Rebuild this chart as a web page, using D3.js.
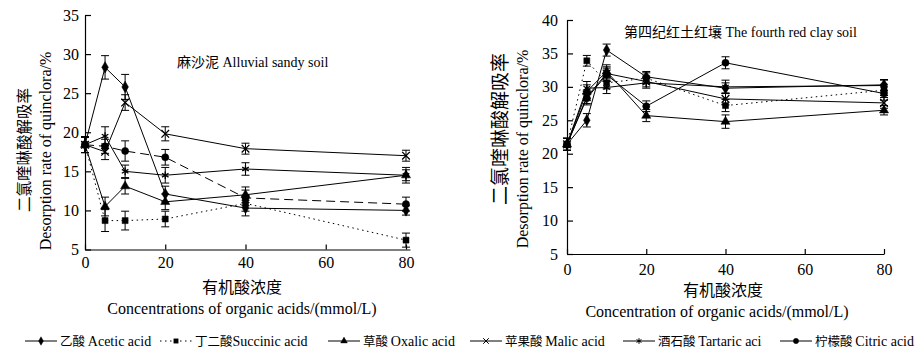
<!DOCTYPE html>
<html lang="zh">
<head>
<meta charset="UTF-8">
<title>Desorption rate of quinclora</title>
<script src="https://d3js.org/d3.v7.min.js"></script>
<style>
  body { margin: 0; background: #fff; }
  svg { display: block; }
  text { font-family: "Liberation Serif", "Noto Sans CJK SC", serif; fill: #000; }
  .cjk { font-family: "Noto Sans CJK SC", sans-serif; }
</style>
</head>
<body>
<script>
const width = 923;
const height = 355;

// organic acid concentration (mmol/L)
const conc = [0, 5, 10, 20, 40, 80];
const acids = ["acetic", "succinic", "oxalic", "malic", "tartaric", "citric"];
const legendCn = ["乙酸 ", "丁二酸", "草酸 ", "苹果酸 ", "酒石酸 ", "柠檬酸 "];
const legendEn = ["Acetic acid", "Succinic acid", "Oxalic acid", "Malic acid", "Tartaric aci", "Citric acid"];

// alluvial sandy soil (%)
const sandyAcetic   = [18.4, 28.3, 25.8, 12.1, 10.3, 10.0];
const sandySuccinic = [18.4, 8.7, 8.7, 8.9, 10.9, 6.2];
const sandyOxalic   = [18.4, 10.5, 13.1, 11.1, 12.0, 14.5];
const sandyMalic    = [18.4, 17.5, 23.8, 19.8, 17.9, 17.0];
const sandyTartaric = [18.4, 19.5, 15.0, 14.5, 15.3, 14.5];
const sandyCitric   = [18.4, 18.2, 17.6, 16.8, 11.6, 10.8];
const sandyErr = {
  acetic:   [1.0, 1.5, 1.6, 1.0, 1.0, 0.6],
  succinic: [1.0, 1.4, 1.2, 1.0, 1.0, 0.9],
  oxalic:   [1.0, 1.2, 1.0, 1.0, 1.0, 1.0],
  malic:    [1.0, 1.0, 1.0, 0.9, 0.7, 0.7],
  tartaric: [1.0, 1.2, 0.8, 1.0, 0.8, 0.7],
  citric:   [1.0, 0.9, 1.3, 1.0, 1.0, 0.9]
};

// fourth red clay soil (%)
const clayAcetic   = [21.4, 25.0, 35.5, 31.5, 29.8, 30.3];
const claySuccinic = [21.4, 33.9, 30.6, 31.3, 27.2, 29.5];
const clayOxalic   = [21.4, 29.3, 32.3, 25.7, 24.8, 26.5];
const clayMalic    = [21.4, 28.5, 32.0, 30.8, 28.2, 27.6];
const clayTartaric = [21.4, 29.8, 29.9, 30.6, 30.0, 30.2];
const clayCitric   = [21.4, 28.3, 31.8, 27.1, 33.6, 29.0];
const clayErr = {
  acetic:   [0.9, 1.0, 0.9, 0.8, 0.8, 0.8],
  succinic: [0.9, 0.8, 0.9, 0.8, 0.9, 0.8],
  oxalic:   [0.9, 1.0, 1.0, 0.9, 1.0, 0.7],
  malic:    [0.9, 1.0, 1.0, 0.8, 0.9, 0.8],
  tartaric: [0.9, 1.0, 0.9, 0.8, 1.0, 0.8],
  citric:   [0.9, 1.0, 1.0, 0.8, 0.9, 1.0]
};

const xTicks = [0, 20, 40, 60, 80];

const symbols = {
  acetic: d3.symbolDiamond, succinic: d3.symbolSquare, oxalic: d3.symbolTriangle,
  malic: d3.symbolTimes, tartaric: d3.symbolAsterisk, citric: d3.symbolCircle
};
const symSize = { acetic: 38, succinic: 36, oxalic: 36, malic: 40, tartaric: 40, citric: 40 };
const stroked = { malic: true, tartaric: true };

const svg = d3.select("body").append("svg")
    .attr("width", width).attr("height", height);

function panel(o) {
  const x = d3.scaleLinear().domain(o.xDomain).range(o.xRange);
  const y = d3.scaleLinear().domain(o.yDomain).range(o.yRange);
  const g = svg.append("g");

  g.append("g")
      .attr("transform", `translate(0,${o.yRange[0]})`)
      .call(d3.axisBottom(x).tickValues(xTicks).tickSizeInner(-5).tickSizeOuter(0).tickPadding(o.xPad))
      .call(a => a.selectAll("text").style("font-size", "16px").style("font-family", "Liberation Serif"));
  g.append("g")
      .attr("transform", `translate(${o.xRange[0]},0)`)
      .call(d3.axisLeft(y).tickValues(o.yTicks).tickSizeInner(-6).tickSizeOuter(0).tickPadding(o.yPad))
      .call(a => a.selectAll("text").style("font-size", "16px").style("font-family", "Liberation Serif"));
  g.selectAll(".domain, .tick line").attr("stroke", "#000").attr("stroke-width", 1.2);

  const line = d3.line().x((d, i) => x(conc[i])).y(d => y(d));

  acids.forEach((k, si) => {
    const vals = o.data[si];
    g.append("path").datum(vals)
        .attr("d", line)
        .attr("fill", "none")
        .attr("stroke", "#000")
        .attr("stroke-width", 1)
        .attr("stroke-dasharray", o.dash[k] || null);

    const err = o.err[k];
    const eb = g.append("g").attr("stroke", "#000").attr("stroke-width", 1);
    vals.forEach((v, i) => {
      const cx = x(conc[i]);
      eb.append("line").attr("x1", cx).attr("x2", cx).attr("y1", y(v - err[i])).attr("y2", y(v + err[i]));
      eb.append("line").attr("x1", cx - 4).attr("x2", cx + 4).attr("y1", y(v - err[i])).attr("y2", y(v - err[i]));
      eb.append("line").attr("x1", cx - 4).attr("x2", cx + 4).attr("y1", y(v + err[i])).attr("y2", y(v + err[i]));
    });

    g.selectAll(null).data(vals).enter().append("path")
        .attr("transform", (d, i) => `translate(${x(conc[i])},${y(d)})`)
        .attr("d", d3.symbol().type(symbols[k]).size(symSize[k]))
        .attr("fill", stroked[k] ? "none" : "#000")
        .attr("stroke", "#000")
        .attr("stroke-width", stroked[k] ? 1.3 : 0.5);
  });

  g.append("text").attr("x", o.title[1]).attr("y", o.title[2])
      .style("font-size", "14px").text(o.title[0]);

  // y axis titles
  g.append("text").attr("class", "cjk")
      .attr("transform", `translate(${o.yt[0]},${o.yt[1]}) rotate(-90)`)
      .attr("text-anchor", "middle").style("font-size", o.yt[2] + "px")
      .text("二氯喹啉酸解吸率");
  g.append("text")
      .attr("transform", `translate(${o.yt[3]},${o.yt[4]}) rotate(-90)`)
      .attr("text-anchor", "middle").style("font-size", "16px")
      .text("Desorption rate of quinclora/%");

  // x axis titles
  g.append("text").attr("class", "cjk")
      .attr("x", o.xt[0]).attr("y", o.xt[1]).attr("text-anchor", "middle")
      .style("font-size", "16px").text("有机酸浓度");
  g.append("text")
      .attr("x", o.xt[2]).attr("y", o.xt[3]).attr("text-anchor", "middle")
      .style("font-size", "16px").text(o.xt[4]);
}

panel({
  xDomain: [0, 81], xRange: [85, 410],
  yDomain: [5, 35], yRange: [249.5, 15],
  yTicks: [5, 10, 15, 20, 25, 30, 35],
  xPad: 7, yPad: 6,
  data: [sandyAcetic, sandySuccinic, sandyOxalic, sandyMalic, sandyTartaric, sandyCitric],
  err: sandyErr,
  dash: { succinic: "1.5,3.5", citric: "9,5" },
  title: ["麻沙泥  Alluvial sandy soil", 177, 67],
  yt: [30, 150, 15.5, 51, 151],
  xt: [242, 293, 242, 314, "Concentrations of organic acids/(mmol/L)"]
});

panel({
  xDomain: [0, 80], xRange: [567, 884],
  yDomain: [5, 40], yRange: [254, 20],
  yTicks: [5, 10, 15, 20, 25, 30, 35, 40],
  xPad: 10, yPad: 9,
  data: [clayAcetic, claySuccinic, clayOxalic, clayMalic, clayTartaric, clayCitric],
  err: clayErr,
  dash: { succinic: "1.5,3.5" },
  title: ["第四纪红土红壤  The fourth red clay soil", 624, 37],
  yt: [507, 129, 19, 528, 149],
  xt: [723, 296, 717, 317, "Concentration of organic acids/(mmol/L)"]
});

// legend
const legendX = [25, 160, 328, 470, 623, 780];
const legendDash = { succinic: "1.5,3.5" };
const lg = svg.append("g").attr("transform", "translate(0,341)");
acids.forEach((k, i) => {
  const item = lg.append("g").attr("transform", `translate(${legendX[i]},0)`);
  item.append("line").attr("x1", 0).attr("x2", 32).attr("y1", 0).attr("y2", 0)
      .attr("stroke", "#000").attr("stroke-width", 1)
      .attr("stroke-dasharray", legendDash[k] || null);
  item.append("path").attr("transform", "translate(16,0)")
      .attr("d", d3.symbol().type(symbols[k]).size(symSize[k] * 0.55))
      .attr("fill", stroked[k] ? "none" : "#000")
      .attr("stroke", "#000").attr("stroke-width", stroked[k] ? 1 : 0.4);
  const t = item.append("text").attr("x", 35).attr("y", 5);
  t.append("tspan").attr("class", "cjk").style("font-size", "12.5px").text(legendCn[i]);
  t.append("tspan").style("font-size", "14px").text(legendEn[i]);
});
</script>
</body>
</html>
